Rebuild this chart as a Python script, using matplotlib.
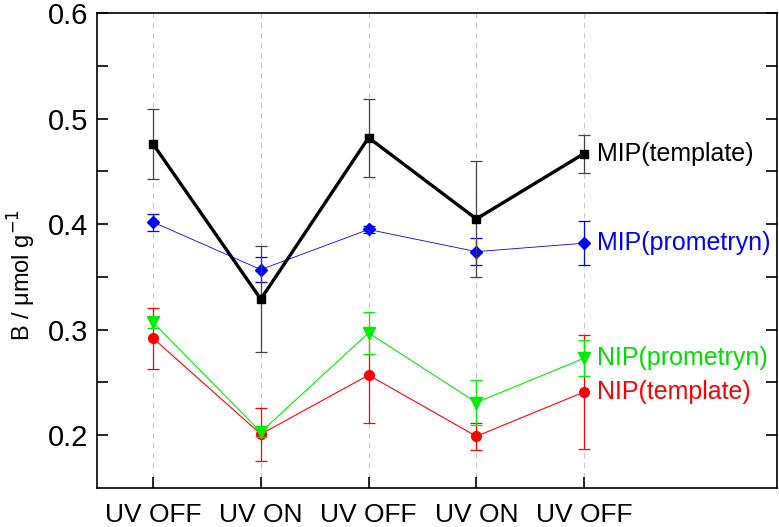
import matplotlib.pyplot as plt
import numpy as np

plt.rcParams['font.family'] = ['Liberation Sans', 'DejaVu Sans']

labels = ['UV OFF', 'UV ON', 'UV OFF', 'UV ON', 'UV OFF']
x = np.arange(1, 6)

mip_template = [0.476, 0.329, 0.482, 0.405, 0.467]
mip_template_err = [0.033, 0.050, 0.037, 0.055, 0.018]
mip_prometryn = [0.402, 0.357, 0.395, 0.374, 0.382]
mip_prometryn_err = [0.008, 0.012, 0.003, 0.013, 0.021]
nip_prometryn = [0.307, 0.203, 0.297, 0.231, 0.273]
nip_prometryn_err = [0.005, 0.005, 0.020, 0.021, 0.017]
nip_template = [0.292, 0.201, 0.257, 0.199, 0.241]
nip_template_err = [0.029, 0.025, 0.045, 0.013, 0.054]


def plot():
    fig = plt.figure(figsize=(7.79, 5.27), dpi=100)
    ax = fig.add_axes([0.1245, 0.074, 0.873, 0.901])

    for xi in x:
        ax.axvline(xi, color='#c8c8c8', lw=0.8, ls=(0, (5, 4)), zorder=0)

    series = [
        (nip_template, nip_template_err, '#ff0000', 'o', 7, 0.8, 'NIP(template)'),
        (nip_prometryn, nip_prometryn_err, '#00ee00', 'v', 8, 0.8, 'NIP(prometryn)'),
        (mip_prometryn, mip_prometryn_err, '#0000ff', 'D', 6.5, 0.6, 'MIP(prometryn)'),
        (mip_template, mip_template_err, '#000000', 's', 6, 2.4, 'MIP(template)'),
    ]
    for i, (y, e, c, m, ms, lw, name) in enumerate(series):
        ecol = '#444444' if c == '#000000' else c
        ax.errorbar(x, y, yerr=e, color=c, marker=m, ms=ms, lw=lw,
                    ecolor=ecol, elinewidth=0.9, capsize=4, capthick=0.9,
                    zorder=2 + i)
        ax.annotate(name, (x[-1], y[-1]), xytext=(9, 0),
                    textcoords='offset points', va='center', ha='left',
                    color=c if c != '#00ee00' else '#00dd00', fontsize=18)

    ax.set_xlim(0.48, 6.79)
    ax.set_ylim(0.15, 0.6)
    ax.set_xticks(x)
    ax.set_xticklabels(labels, fontsize=19)
    ax.set_yticks([0.2, 0.3, 0.4, 0.5, 0.6])
    ax.set_yticklabels(['0.2', '0.3', '0.4', '0.5', '0.6'], fontsize=21)
    ax.set_yticks([0.25, 0.35, 0.45, 0.55], minor=True)
    ax.tick_params(axis='y', which='both', direction='in', length=8,
                   width=1.2, right=True, pad=6.5)
    ax.tick_params(axis='x', direction='in', length=8, width=1.2, pad=11)
    for s in ax.spines.values():
        s.set_linewidth(1.2)
    ax.set_ylabel('B / \u03bcmol g$^{-1}$', fontsize=17)
    ax.yaxis.set_label_coords(-0.086, 0.448)

    plt.savefig('out.png', dpi=100)


if __name__ == '__main__':
    plot()
